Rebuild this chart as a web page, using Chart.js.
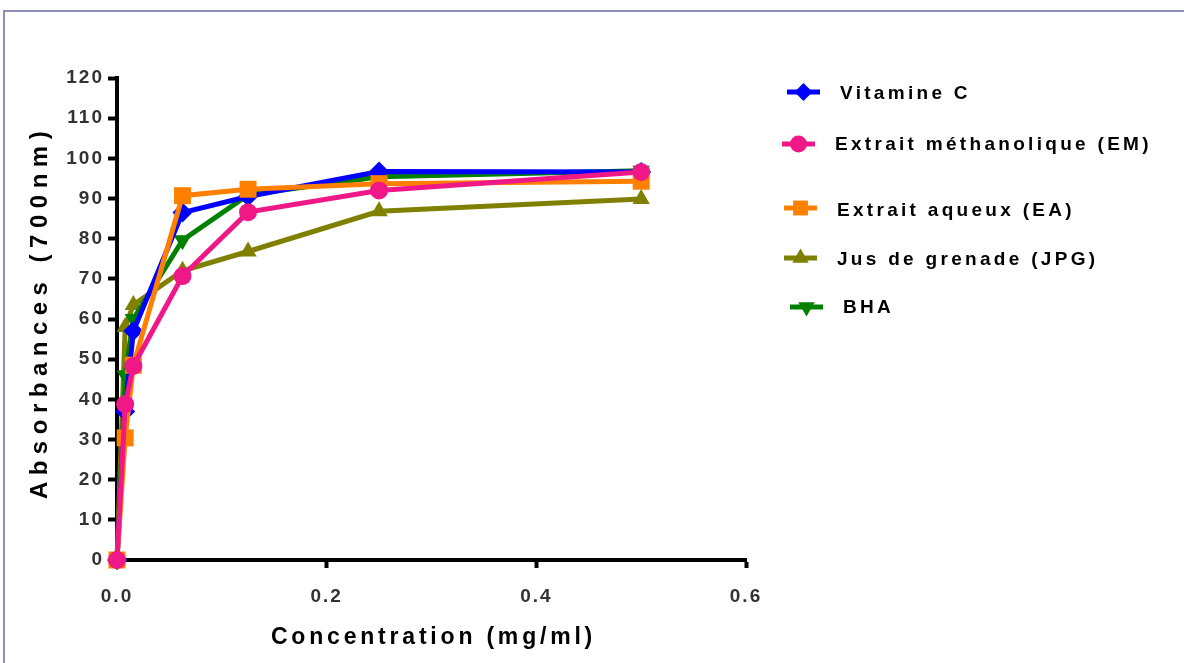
<!DOCTYPE html>
<html>
<head>
<meta charset="utf-8">
<script src="https://cdn.jsdelivr.net/npm/chart.js@4.4.1/dist/chart.umd.min.js"></script>
<style>
  html, body { margin: 0; padding: 0; background: #fff; }
  #wrap { position: relative; width: 1184px; height: 663px; overflow: hidden; }
  #frame { position: absolute; left: 3px; top: 10px; width: 1190px; height: 670px;
           border-top: 2px solid #8e8eba; border-left: 2px solid #8e8eba; }
  canvas { position: absolute; left: 0; top: 0; }
</style>
</head>
<body>
<div id="wrap">
  <div id="frame"></div>
  <canvas id="c" width="1184" height="663"></canvas>
</div>
<script>
// Concentrations (mg/ml)
const concentrations = [0, 0.0078, 0.0156, 0.0625, 0.125, 0.25, 0.5];

// Absorbance readings at 700 nm
const vitamineC = [0, 37, 57, 86.5, 90.5, 96.7, 96.6];
const extraitMethanolique = [0, 38.8, 48.3, 70.7, 86.6, 92.0, 96.6];
const extraitAqueux = [0, 30.4, 48.5, 90.7, 92.3, 93.7, 94.3];
const jusGrenade = [0, 58, 63.5, 72.0, 76.8, 86.8, 89.9];
const bha = [0, 46, 60, 79.6, 90.9, 95.4, 96.9];

const seriesNames = ['Vitamine C', 'Extrait méthanolique (EM)', 'Extrait aqueux (EA)', 'Jus de grenade (JPG)', 'BHA'];
const xTicks = [0, 0.2, 0.4, 0.6];
const yTickStep = 10;

const xTitle = 'Concentration (mg/ml)';
const yTitle = 'Absorbances (700nm)';

const FONT = '"Liberation Sans", Arial, Helvetica, sans-serif';

function toPoints(ys) {
  return concentrations.map((x, i) => ({ x: x, y: ys[i] }));
}

const styles = [
  { color: '#0000ff', pointStyle: 'rectRot', radius: 10, rotation: 0, order: 2, legendRadius: 9 },
  { color: '#f01887', pointStyle: 'circle', radius: 9, rotation: 0, order: 0, legendRadius: 8.5 },
  { color: '#ff8000', pointStyle: 'rect', radius: 12, rotation: 0, order: 1, legendRadius: 10.5 },
  { color: '#808000', pointStyle: 'triangle', radius: 10, rotation: 0, order: 4, legendRadius: 9.5 },
  { color: '#008000', pointStyle: 'triangle', radius: 10, rotation: 180, order: 3, legendRadius: 9.5 }
];

const values = [vitamineC, extraitMethanolique, extraitAqueux, jusGrenade, bha];

const datasets = values.map((v, i) => ({
  label: seriesNames[i],
  data: toPoints(v),
  borderColor: styles[i].color,
  backgroundColor: styles[i].color,
  pointBackgroundColor: styles[i].color,
  pointBorderColor: styles[i].color,
  borderWidth: 5,
  pointBorderWidth: 0,
  pointRadius: styles[i].radius,
  pointStyle: styles[i].pointStyle,
  pointRotation: styles[i].rotation,
  tension: 0,
  clip: false,
  order: styles[i].order
}));

// Legend rows (right of the plot) and axis titles drawn with letter spacing
const legendRows = [
  { lx: 787, ly: 92, tx: 840, ty: 94 },
  { lx: 782, ly: 144, tx: 835, ty: 145 },
  { lx: 784, ly: 208, tx: 837, ty: 211 },
  { lx: 784, ly: 258, tx: 837, ty: 260 },
  { lx: 790, ly: 307, tx: 843, ty: 308 }
];

const decorPlugin = {
  id: 'decor',
  beforeDraw(chart) {
    chart.ctx.letterSpacing = '2px';
  },
  afterDraw(chart) {
    const ctx = chart.ctx;
    const area = chart.chartArea;

    // axis titles
    ctx.save();
    ctx.fillStyle = '#000';
    ctx.font = 'bold 23px ' + FONT;
    ctx.letterSpacing = '3.8px';
    ctx.textAlign = 'center';
    ctx.textBaseline = 'middle';
    ctx.fillText(xTitle, (area.left + area.right) / 2 + 2, 638);
    ctx.restore();

    ctx.save();
    ctx.fillStyle = '#000';
    ctx.font = 'bold 24px ' + FONT;
    ctx.letterSpacing = '6.5px';
    ctx.textAlign = 'center';
    ctx.textBaseline = 'middle';
    ctx.translate(40, 312);
    ctx.rotate(-Math.PI / 2);
    ctx.fillText(yTitle, 0, 0);
    ctx.restore();

    // legend
    legendRows.forEach((r, i) => {
      const st = styles[i];
      ctx.save();
      ctx.strokeStyle = st.color;
      ctx.lineWidth = 5;
      ctx.beginPath();
      ctx.moveTo(r.lx, r.ly);
      ctx.lineTo(r.lx + 33, r.ly);
      ctx.stroke();
      ctx.fillStyle = st.color;
      ctx.strokeStyle = st.color;
      Chart.helpers.drawPoint(ctx, {
        pointStyle: st.pointStyle,
        rotation: st.rotation,
        radius: st.legendRadius,
        borderWidth: 0
      }, r.lx + 16.5, r.ly);
      ctx.restore();

      ctx.save();
      ctx.fillStyle = '#000';
      ctx.font = 'bold 19px ' + FONT;
      ctx.letterSpacing = '3.3px';
      ctx.textAlign = 'left';
      ctx.textBaseline = 'middle';
      ctx.fillText(seriesNames[i], r.tx, r.ty);
      ctx.restore();
    });
  }
};

new Chart(document.getElementById('c'), {
  type: 'line',
  data: { datasets: datasets },
  options: {
    responsive: false,
    animation: false,
    devicePixelRatio: 1,
    layout: { padding: { left: 0, right: 438, top: 78, bottom: 0 } },
    plugins: { legend: { display: false }, tooltip: { enabled: false } },
    scales: {
      x: {
        type: 'linear',
        min: 0,
        max: 0.6,
        afterFit(scale) { scale.height = 103; },
        afterBuildTicks(scale) { scale.ticks = xTicks.map(v => ({ value: v })); },
        ticks: {
          color: '#333',
          font: { family: FONT, size: 19, weight: 'bold' },
          padding: 17,
          maxRotation: 0,
          callback: v => Number(v).toFixed(1)
        },
        grid: { display: true, drawOnChartArea: false, drawTicks: true, tickLength: 8, tickWidth: 4, tickColor: '#000' },
        border: { display: true, width: 4, color: '#000' }
      },
      y: {
        type: 'linear',
        min: 0,
        max: 120,
        afterFit(scale) { scale.width = 117; },
        ticks: {
          stepSize: yTickStep,
          color: '#333',
          font: { family: FONT, size: 19, weight: 'bold' },
          padding: 4
        },
        grid: { display: true, drawOnChartArea: false, drawTicks: true, tickLength: 9, tickWidth: 4, tickColor: '#000' },
        border: { display: true, width: 4, color: '#000' }
      }
    }
  },
  plugins: [decorPlugin]
});
</script>
</body>
</html>
